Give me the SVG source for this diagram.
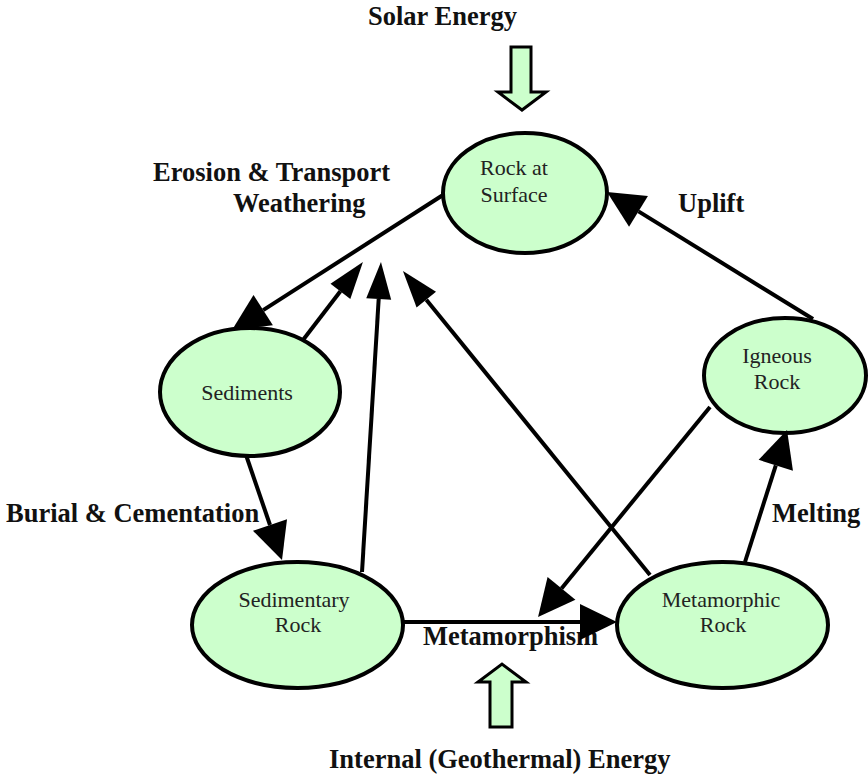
<svg xmlns="http://www.w3.org/2000/svg" width="868" height="776" viewBox="0 0 868 776">
  <defs>
    <style>
      .label { font-family: "Liberation Serif", "Times New Roman", serif; font-weight: bold; font-size: 26.5px; fill: #111; }
      .node ellipse { fill: #ccffcc; stroke: #000; stroke-width: 4; }
      .node text { font-family: "Liberation Serif", "Times New Roman", serif; font-size: 22px; fill: #222; text-anchor: middle; }
      .conn line { stroke: #000; stroke-width: 4; fill: none; }
      .wide { marker-end: url(#headWide); }
      .narrow { marker-end: url(#headNarrow); }
      .energy { fill: #ccffcc; stroke: #000; stroke-width: 3; stroke-linejoin: miter; }
    </style>
    <!-- arrowheads: the line ends at the head's base, the head extends 37px forward -->
    <marker id="headWide" markerUnits="userSpaceOnUse" orient="auto" refX="0" refY="0" markerWidth="40" markerHeight="40" viewBox="0 -20 40 40" overflow="visible">
      <path d="M0,-18 L37,0 L0,18 Z" fill="#000"/>
    </marker>
    <marker id="headNarrow" markerUnits="userSpaceOnUse" orient="auto" refX="0" refY="0" markerWidth="40" markerHeight="40" viewBox="0 -20 40 40" overflow="visible">
      <path d="M0,-12.5 L37,0 L0,12.5 Z" fill="#000"/>
    </marker>
  </defs>

  <rect width="868" height="776" fill="#fff"/>

  <!-- process labels -->
  <g id="labels">
    <text class="label" x="368" y="25">Solar Energy</text>
    <text class="label" x="153" y="181">Erosion &amp; Transport</text>
    <text class="label" x="233" y="212">Weathering</text>
    <text class="label" x="678" y="212">Uplift</text>
    <text class="label" x="6" y="522">Burial &amp; Cementation</text>
    <text class="label" x="772" y="522">Melting</text>
    <text class="label" x="423" y="645">Metamorphism</text>
    <text class="label" x="329" y="768">Internal (Geothermal) Energy</text>
  </g>

  <!-- energy inputs -->
  <g id="solar-energy">
    <polygon class="energy" points="511,47 531,47 531,92 546,92 522,110 498,92 511,92"/>
  </g>
  <g id="geothermal-energy">
    <polygon class="energy" points="490,727 512,727 512,682 526,682 502,664 478,682 490,682"/>
  </g>

  <!-- rock states -->
  <g id="rock-at-surface" class="node">
    <ellipse cx="525" cy="193" rx="82" ry="60"/>
    <text x="514" y="175">Rock at</text>
    <text x="514" y="202">Surface</text>
  </g>
  <g id="sediments" class="node">
    <ellipse cx="250" cy="392" rx="90" ry="64"/>
    <text x="247" y="400">Sediments</text>
  </g>
  <g id="sedimentary-rock" class="node">
    <ellipse cx="297.5" cy="625" rx="105.5" ry="63"/>
    <text x="294" y="607">Sedimentary</text>
    <text x="298" y="632">Rock</text>
  </g>
  <g id="metamorphic-rock" class="node">
    <ellipse cx="722.5" cy="625" rx="105.5" ry="63"/>
    <text x="721" y="607">Metamorphic</text>
    <text x="723" y="632">Rock</text>
  </g>
  <g id="igneous-rock" class="node">
    <ellipse cx="785" cy="375.5" rx="81" ry="57.5"/>
    <text x="777" y="363">Igneous</text>
    <text x="777" y="389">Rock</text>
  </g>

  <!-- transitions -->
  <g id="connectors" class="conn">
    <line class="wide" x1="443" y1="195" x2="263.2" y2="310.1"/>
    <line class="narrow" x1="303" y1="340" x2="340.4" y2="291.3"/>
    <line class="narrow" x1="362" y1="572" x2="378.7" y2="298.9"/>
    <line class="narrow" x1="650" y1="575" x2="426.3" y2="299.7"/>
    <line class="wide" x1="710" y1="407" x2="561.5" y2="588.4"/>
    <line class="wide" x1="403" y1="622" x2="580" y2="622"/>
    <line class="wide" x1="745" y1="562" x2="775.8" y2="465.3"/>
    <line class="wide" x1="813" y1="319" x2="638.5" y2="211.4"/>
    <line class="wide" x1="246" y1="455" x2="270" y2="525"/>
  </g>
</svg>
